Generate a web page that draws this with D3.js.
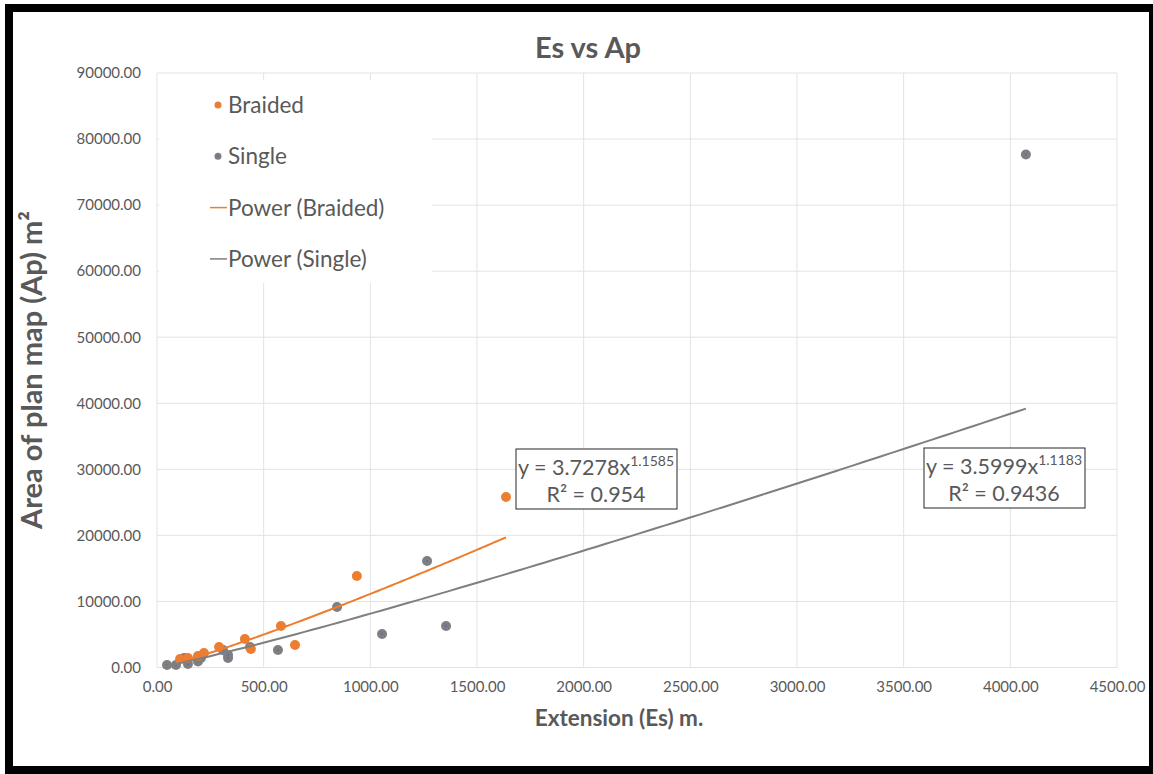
<!DOCTYPE html>
<html>
<head>
<meta charset="utf-8">
<script src="https://cdn.jsdelivr.net/npm/d3@7"></script>
<style>
  body { margin: 0; background: #fff; }
  text { font-family: Lato, "Open Sans", sans-serif; }
</style>
</head>
<body>
<svg id="chart" width="1153" height="774"></svg>
<script>
// Braided points (Es, Ap)
var braidedEs = [108, 145, 192, 220, 291, 412, 440, 581, 647, 937, 1636];
var braidedAp = [1290, 1440, 1740, 2200, 3100, 4320, 2800, 6290, 3410, 13860, 25800];
// Single points (Es, Ap)
var singleEs = [47, 89, 127, 145, 192, 206, 309, 333, 333, 436, 567, 844, 1055, 1355, 1266, 4073];
var singleAp = [380, 380, 1440, 530, 910, 1440, 2650, 1440, 1900, 3100, 2650, 9160, 5080, 6290, 16130, 77650];
// power trendlines y = a x^b
var trendA = [3.7278, 3.5999];
var trendB = [1.1585, 1.1183];
var trendR2 = ["0.954", "0.9436"];
var xTicks = [0, 500, 1000, 1500, 2000, 2500, 3000, 3500, 4000, 4500];
var yTicks = [0, 10000, 20000, 30000, 40000, 50000, 60000, 70000, 80000, 90000];

var svg = d3.select("#chart");
var orange = "#ED7D31", grey = "#7F7F7F", textCol = "#595959";

var x = d3.scaleLinear().domain([0, 4500]).range([157, 1117]);
var y = d3.scaleLinear().domain([0, 90000]).range([667.5, 73]);

// frame
svg.append("rect").attr("x", 9).attr("y", 8).attr("width", 1144).attr("height", 762)
  .attr("fill", "#fff").attr("stroke", "#000").attr("stroke-width", 8);

// grid
var grid = svg.append("g");
grid.selectAll("line.v").data(xTicks).enter().append("line")
  .attr("x1", function(d){ return x(d); }).attr("x2", function(d){ return x(d); })
  .attr("y1", y(0)).attr("y2", y(90000))
  .attr("stroke", "#e3e3e3").attr("stroke-width", 1);
grid.selectAll("line.h").data(yTicks).enter().append("line")
  .attr("x1", x(0)).attr("x2", x(4500))
  .attr("y1", function(d){ return y(d); }).attr("y2", function(d){ return y(d); })
  .attr("stroke", "#e3e3e3").attr("stroke-width", 1);

// axes labels via d3 axes
var xAxis = svg.append("g").attr("transform", "translate(0," + y(0) + ")")
  .call(d3.axisBottom(x).tickValues(xTicks).tickFormat(d3.format(".2f")).tickSize(0).tickPadding(14));
var yAxis = svg.append("g").attr("transform", "translate(" + x(0) + ",0)")
  .call(d3.axisLeft(y).tickValues(yTicks).tickFormat(d3.format(".2f")).tickSize(0).tickPadding(16));
[xAxis, yAxis].forEach(function(a){
  a.select(".domain").remove();
  a.selectAll("text").attr("fill", textCol).style("font-size", "15px")
    .style("font-family", "Lato, 'Open Sans', sans-serif");
});

// titles
svg.append("text").attr("x", 588).attr("y", 58).attr("text-anchor", "middle")
  .attr("fill", textCol).style("font-size", "29px").style("font-weight", "bold")
  .text("Es vs Ap");
svg.append("text").attr("x", 619).attr("y", 726).attr("text-anchor", "middle")
  .attr("fill", textCol).style("font-size", "22.5px").style("font-weight", "bold")
  .text("Extension (Es) m.");
svg.append("text").attr("transform", "translate(42,370) rotate(-90)").attr("text-anchor", "middle")
  .attr("fill", textCol).style("font-size", "29px").style("font-weight", "bold")
  .text("Area of plan map (Ap) m²");

// trendlines
function trend(i, es) {
  var lo = d3.min(es), hi = d3.max(es);
  return d3.range(0, 101).map(function(k){
    var xv = lo + (hi - lo) * k / 100;
    return [xv, trendA[i] * Math.pow(xv, trendB[i])];
  });
}
var line = d3.line().x(function(d){ return x(d[0]); }).y(function(d){ return y(d[1]); });

// points
function pts(es, ap) { return es.map(function(v, i){ return [v, ap[i]]; }); }
svg.append("g").selectAll("circle").data(pts(singleEs, singleAp)).enter().append("circle")
  .attr("cx", function(d){ return x(d[0]); }).attr("cy", function(d){ return y(d[1]); })
  .attr("r", 5).attr("fill", grey);
svg.append("g").selectAll("circle").data(pts(singleEs, singleAp)).enter().append("circle")
  .attr("cx", function(d){ return x(d[0]); }).attr("cy", function(d){ return y(d[1]); })
  .attr("r", 1).attr("fill", "#4472C4");
svg.append("g").selectAll("circle").data(pts(braidedEs, braidedAp)).enter().append("circle")
  .attr("cx", function(d){ return x(d[0]); }).attr("cy", function(d){ return y(d[1]); })
  .attr("r", 5).attr("fill", orange);

svg.append("path").datum(trend(0, braidedEs)).attr("d", line)
  .attr("fill", "none").attr("stroke", orange).attr("stroke-width", 2);
svg.append("path").datum(trend(1, singleEs)).attr("d", line)
  .attr("fill", "none").attr("stroke", grey).attr("stroke-width", 2);

// legend
var lg = svg.append("g");
lg.append("rect").attr("x", 159).attr("y", 80).attr("width", 273).attr("height", 203).attr("fill", "#fff");
var legendItems = [
  {label: "Braided", type: "dot", color: orange},
  {label: "Single", type: "dot", color: grey},
  {label: "Power (Braided)", type: "line", color: orange},
  {label: "Power (Single)", type: "line", color: grey}
];
legendItems.forEach(function(d, i){
  var yy = 105 + i * 51.3;
  if (d.type == "dot") {
    lg.append("circle").attr("cx", 218).attr("cy", yy).attr("r", 3.5).attr("fill", d.color);
    if (i == 1) lg.append("circle").attr("cx", 218).attr("cy", yy).attr("r", 1).attr("fill", "#4472C4");
  } else {
    lg.append("line").attr("x1", 210).attr("x2", 227).attr("y1", yy).attr("y2", yy)
      .attr("stroke", d.color).attr("stroke-width", 1.5);
  }
  lg.append("text").attr("x", 228).attr("y", yy + 8).attr("fill", textCol)
    .style("font-size", "22.5px").text(d.label);
});

// equation boxes
var boxes = [{x: 516, y: 449}, {x: 924, y: 448}];
boxes.forEach(function(b, i){
  var g = svg.append("g");
  g.append("rect").attr("x", b.x).attr("y", b.y).attr("width", 161).attr("height", 60)
    .attr("fill", "#fff").attr("stroke", "#262626").attr("stroke-width", 1);
  var t = g.append("text").attr("x", b.x + 2).attr("y", b.y + 26).attr("fill", textCol).style("font-size", "21.5px");
  t.append("tspan").text("y = " + trendA[i].toFixed(4) + "x");
  t.append("tspan").attr("dy", -9).style("font-size", "14px").text(trendB[i].toFixed(4));
  g.append("text").attr("x", b.x + 80).attr("y", b.y + 53).attr("text-anchor", "middle")
    .attr("fill", textCol).style("font-size", "21.5px").text("R² = " + trendR2[i]);
});
</script>
</body>
</html>
